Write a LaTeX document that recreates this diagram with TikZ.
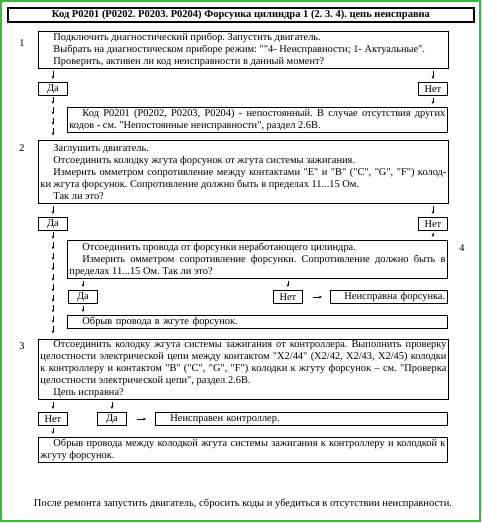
\documentclass[tikz,border=0pt]{standalone}
\usepackage{fontspec}
\setmainfont{Liberation Serif}[Ligatures=TeXOff]
\usetikzlibrary{arrows.meta, positioning, decorations.markings}
\definecolor{framegreen}{RGB}{60,185,60}
\frenchspacing

\begin{document}
\begin{tikzpicture}[
        x=1pt, y=-1pt,
        font=\fontsize{10.4}{12}\selectfont,
        box/.style={rectangle, draw, line width=0.9pt, inner xsep=2pt, inner ysep=1.5pt, align=justify, anchor=north west},
        answer/.style={rectangle, draw, line width=0.9pt, minimum width=29pt, minimum height=13pt, inner sep=0pt, anchor=north west},
        smallarr/.style={-{Stealth[length=3pt, width=2.6pt]}, line width=0.5pt},
        arrchain/.style={decoration={markings, mark=between positions 8pt and 1 step 10.5pt with {\draw[smallarr] (-7pt,0) -- (0,0);}}, decorate}
    ]
        \useasboundingbox (0,0) rectangle (482,523);
        \draw[framegreen, line width=2pt] (1,1) rectangle (480,521);

        \node[rectangle, draw, line width=1.2pt, minimum width=466pt, minimum height=14pt, inner sep=0pt, font=\fontsize{10.5}{12}\selectfont\bfseries] (title) at (241,15) {Код P0201 (P0202. P0203. P0204) Форсунка цилиндра 1 (2. 3. 4). цепь неисправна};

        % step 1
        \node (n1) at (22,43) {1};
        \node[box, text width=406pt, minimum height=37pt] (b1) at (38,31) {\hspace*{13pt}Подключить диагностический прибор. Запустить двигатель.\\
            \hspace*{13pt}Выбрать на диагностическом приборе режим: ""4- Неисправности; 1- Актуальные".\\
            \hspace*{13pt}Проверить, активен ли код неисправности в данный момент?};
        \node[answer] (da1) at (38,82) {Да};
        \node[answer] (net1) at (418,82) {Нет};
        \node[box, text width=376pt, minimum height=25pt] (occ) at (67,107) {\hspace*{13pt}Код P0201 (P0202, P0203, P0204) - непостоянный. В случае отсутствия других\linebreak
            кодов - см. "Непостоянные неисправности", раздел 2.6В.};

        \draw[smallarr, shorten <=2pt, shorten >=3pt] (b1.south -| da1) -- (da1);
        \draw[smallarr, shorten <=2pt, shorten >=3pt] (b1.south -| net1) -- (net1);
        \draw[smallarr, shorten <=2pt, shorten >=3pt] (net1) -- (net1 |- occ.north);

        % step 2
        \node (n2) at (22,148) {2};
        \node[box, text width=406pt, minimum height=63pt] (b2) at (38,140) {\hspace*{13pt}Заглушить двигатель.\\
            \hspace*{13pt}Отсоединить колодку жгута форсунок от жгута системы зажигания.\\
            \hspace*{13pt}Измерить омметром сопротивление между контактами "E" и "B" ("C", "G", "F") колод-\linebreak
            ки жгута форсунок. Сопротивление должно быть в пределах 11...15 Ом.\\
            \hspace*{13pt}Так ли это?};
        \path[arrchain] (da1) -- (da1 |- b2.north);

        \node[answer] (da2) at (38,217) {Да};
        \node[answer] (net2) at (418,217) {Нет};
        \draw[smallarr, shorten <=2pt, shorten >=3pt] (b2.south -| da2) -- (da2);
        \draw[smallarr, shorten <=2pt, shorten >=3pt] (b2.south -| net2) -- (net2);

        % step 4
        \node (n4) at (462,248) {4};
        \node[box, text width=376pt, minimum height=38pt] (b4) at (67,240) {\hspace*{13pt}Отсоединить провода от форсунки неработающего цилиндра.\\
            \hspace*{13pt}Измерить омметром сопротивление форсунки. Сопротивление должно быть в\linebreak
            пределах 11...15 Ом. Так ли это?};
        \draw[smallarr, shorten <=2pt, shorten >=3pt] (net2) -- (net2 |- b4.north);

        \node[answer] (da3) at (68,290) {Да};
        \node[answer] (net3) at (273,290) {Нет};
        \node[box, text width=113pt, align=left, minimum height=13pt, inner ysep=0pt] (inj) at (330,290) {\hspace*{12pt}\mbox{Неисправна форсунка.}};
        \draw[smallarr, shorten <=2pt, shorten >=3pt] (b4.south -| da3) -- (da3);
        \draw[smallarr, shorten <=2pt, shorten >=3pt] (b4.south -| net3) -- (net3);
        \draw[smallarr, shorten <=10pt, shorten >=8pt] (net3) -- (inj);

        \node[box, text width=376pt, align=left, minimum height=13pt, inner ysep=0pt] (wire) at (67,315) {\hspace*{13pt}Обрыв провода в жгуте форсунок.};
        \draw[smallarr, shorten <=2pt, shorten >=3pt] (da3) -- (da3 |- wire.north);

        % step 3
        \node (n3) at (22,346) {3};
        \node[box, text width=406pt, minimum height=60pt] (b3) at (38,339) {\hspace*{13pt}Отсоединить колодку жгута системы зажигания от контроллера. Выполнить проверку\linebreak
            целостности электрической цепи между контактом "X2/44" (X2/42, X2/43, X2/45) колодки\linebreak
            к контроллеру и контактом "B" ("C", "G", "F") колодки к жгуту форсунок – см. "Проверка\linebreak
            целостности электрической цепи", раздел 2.6В.\\
            \hspace*{13pt}Цепь исправна?};
        \path[arrchain] (da2) -- (da2 |- b3.north);

        \node[answer] (net4) at (38,412) {Нет};
        \node[answer] (da4) at (97,412) {Да};
        \node[box, text width=288pt, align=left, minimum height=13pt, inner ysep=0pt] (ecu) at (155,412) {\hspace*{13pt}Неисправен контроллер.};
        \draw[smallarr, shorten <=2pt, shorten >=3pt] (b3.south -| net4) -- (net4);
        \draw[smallarr, shorten <=2pt, shorten >=3pt] (b3.south -| da4) -- (da4);
        \draw[smallarr, shorten <=10pt, shorten >=9pt] (da4) -- (ecu);

        \node[box, text width=405pt, minimum height=25pt] (open) at (38,437) {\hspace*{13pt}Обрыв провода между колодкой жгута системы зажигания к контроллеру и колодкой к\linebreak
            жгуту форсунок.};
        \draw[smallarr, shorten <=2pt, shorten >=3pt] (net4) -- (net4 |- open.north);

        \node[font=\fontsize{10.5}{12}\selectfont] (after) at (243,504) {После ремонта запустить двигатель, сбросить коды и убедиться в отсутствии неисправности.};
    \end{tikzpicture}
\end{document}
